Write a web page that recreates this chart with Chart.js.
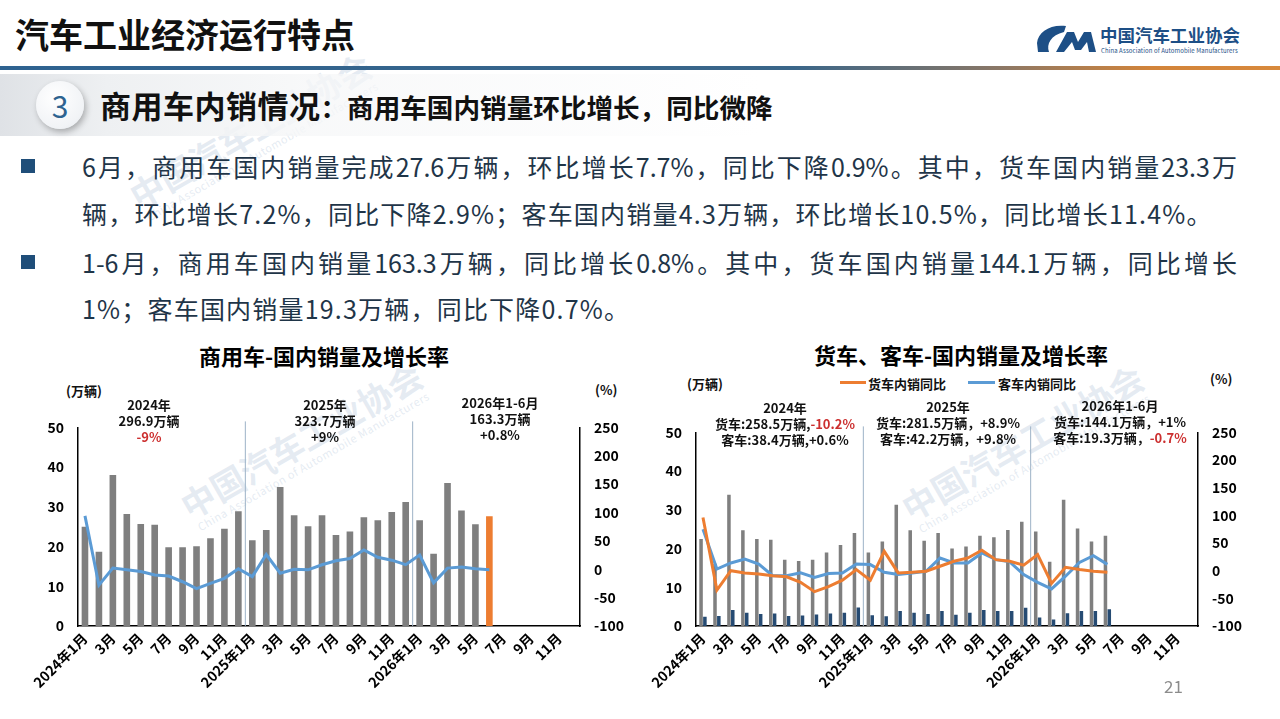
<!DOCTYPE html>
<html>
<head>
<meta charset="utf-8">
<script src="https://cdn.jsdelivr.net/npm/chart.js@4.4.1/dist/chart.umd.min.js"></script>
<style>
  body { margin: 0; background: #fff; font-family: "Noto Sans CJK SC", "Noto Sans", sans-serif; }
  #page { position: relative; width: 1280px; height: 719px; overflow: hidden; background: #fff; }
  .abs { position: absolute; white-space: nowrap; }
  .wm { position: absolute; color: rgba(186, 202, 222, 0.38); font-weight: bold; text-align: center; line-height: 1.1; transform: translate(-50%, -50%) rotate(-30deg); white-space: nowrap; pointer-events: none; }
  .wm small { display: block; font-size: 11px; font-weight: normal; letter-spacing: 0.5px; }
  .note { position: absolute; font-size: 13px; font-weight: bold; color: #111; text-align: center; line-height: 16px; transform: translateX(-50%); white-space: nowrap; }
  .red { color: #cc2f2f; }
  .body-line { position: absolute; left: 82px; font-size: 25px; line-height: 30px; color: #1f3548; letter-spacing: 1.2px; white-space: nowrap; }
  .just { width: 1155px; text-align: justify; text-align-last: justify; letter-spacing: 0; }
  .bullet { position: absolute; left: 21px; width: 14px; height: 14px; background: #1f4e79; }
  .unit { position: absolute; font-size: 13px; font-weight: bold; color: #111; white-space: nowrap; }
  .ctitle { position: absolute; font-size: 22px; font-weight: bold; color: #000; transform: translateX(-50%); white-space: nowrap; }
  canvas { position: absolute; }
</style>
</head>
<body>
<div id="page">
  <!-- faint watermarks -->
  <div class="wm" style="left:253px;top:135px;font-size:34px;">中国汽车工业协会<small>China Association of Automobile Manufacturers</small></div>
  <div class="wm" style="left:304px;top:445px;font-size:34px;">中国汽车工业协会<small>China Association of Automobile Manufacturers</small></div>
  <div class="wm" style="left:1025px;top:447px;font-size:34px;">中国汽车工业协会<small>China Association of Automobile Manufacturers</small></div>

  <!-- header -->
  <div class="abs" style="left:15px;top:12px;font-size:34px;font-weight:bold;color:#111;line-height:44px;">汽车工业经济运行特点</div>
  <svg class="abs" style="left:1036px;top:23px;" width="62" height="32" viewBox="0 0 62 32">
    <path d="M30 3 C14 1 2 9 1 20 L2 29 L13 29 C10 21 15 12 28 9 Z" fill="#1d4f86"/>
    <polygon points="20,29 31,9 38,9 42,19 48,9 55,9 60,29 53,29 51,19 45,27 39,27 36,19 28,29" fill="#1d4f86"/>
  </svg>
  <div class="abs" style="left:1100px;top:23px;font-size:17.5px;font-weight:bold;color:#1d4f86;line-height:24px;">中国汽车工业协会</div>
  <div class="abs" style="left:1101px;top:47px;font-size:6px;color:#1d4f86;line-height:8px;letter-spacing:0.1px;">China Association of Automobile Manufacturers</div>
  <div class="abs" style="left:0;top:66px;width:1280px;height:4px;background:linear-gradient(to right,#2e6290 0%,#3a6689 62%,#8a7766 78%,#d2843a 90%,#d8893c 100%);"></div>

  <!-- section header -->
  <div class="abs" style="left:0;top:74px;width:760px;height:62px;background:linear-gradient(to right,#dfe2e6 0%,#eef0f2 14%,rgba(246,247,248,0.8) 40%,rgba(255,255,255,0) 100%);"></div>
  <div class="abs" style="left:36px;top:81px;width:48px;height:48px;border-radius:50%;background:radial-gradient(circle at 40% 35%,#ffffff 0%,#f1f3f6 70%,#e2e6eb 100%);box-shadow:2px 3px 6px rgba(0,0,0,0.28);text-align:center;line-height:48px;font-size:30px;color:#2e6390;">3</div>
  <div class="abs" style="left:100px;top:86px;line-height:38px;color:#111;font-weight:bold;"><span style="font-size:31px;letter-spacing:0.5px;">商用车内销情况</span><span style="font-size:26.6px;">：商用车国内销量环比增长，同比微降</span></div>

  <!-- bullet text -->
  <div class="bullet" style="top:159px;"></div>
  <div class="body-line just" style="top:151px;">6月，商用车国内销量完成27.6万辆，环比增长7.7%，同比下降0.9%。其中，货车国内销量23.3万</div>
  <div class="body-line" style="top:198px;">辆，环比增长7.2%，同比下降2.9%；客车国内销量4.3万辆，环比增长10.5%，同比增长11.4%。</div>
  <div class="bullet" style="top:255px;"></div>
  <div class="body-line just" style="top:247px;">1-6月，商用车国内销量163.3万辆，同比增长0.8%。其中，货车国内销量144.1万辆，同比增长</div>
  <div class="body-line" style="top:293px;">1%；客车国内销量19.3万辆，同比下降0.7%。</div>

  <!-- left chart -->
  <div class="ctitle" style="left:324px;top:339px;">商用车-国内销量及增长率</div>
  <div class="unit" style="left:66px;top:381px;">(万辆)</div>
  <div class="unit" style="left:595px;top:380px;">(%)</div>
  <canvas id="leftChart" width="640" height="314" style="left:0;top:405px;width:640px;height:314px;"></canvas>
  <div class="note" style="left:149px;top:397px;">2024年<br>296.9万辆<br><span class="red">-9%</span></div>
  <div class="note" style="left:325px;top:397px;">2025年<br>323.7万辆<br>+9%</div>
  <div class="note" style="left:500px;top:395px;">2026年1-6月<br>163.3万辆<br>+0.8%</div>

  <!-- right chart -->
  <div class="ctitle" style="left:961px;top:338px;">货车、客车-国内销量及增长率</div>
  <div class="unit" style="left:687px;top:374px;">(万辆)</div>
  <div class="unit" style="left:1210px;top:369px;">(%)</div>
  <div class="abs" style="left:840px;top:381px;width:26px;height:3px;background:#ed7d31;"></div>
  <div class="unit" style="left:868px;top:374px;">货车内销同比</div>
  <div class="abs" style="left:968px;top:381px;width:27px;height:3px;background:#5b9bd5;"></div>
  <div class="unit" style="left:998px;top:374px;">客车内销同比</div>
  <canvas id="rightChart" width="640" height="309" style="left:640px;top:410px;width:640px;height:309px;"></canvas>
  <div class="note" style="left:785px;top:400px;">2024年<br>货车:258.5万辆,<span class="red">-10.2%</span><br>客车:38.4万辆,+0.6%</div>
  <div class="note" style="left:948px;top:399px;">2025年<br>货车:281.5万辆，+8.9%<br>客车:42.2万辆，+9.8%</div>
  <div class="note" style="left:1120px;top:398px;">2026年1-6月<br>货车:144.1万辆，+1%<br>客车:19.3万辆，<span class="red">-0.7%</span></div>

  <div class="abs" style="left:1164px;top:674px;font-size:17px;color:#8c8c8c;line-height:24px;">21</div>
</div>

<script>
// month categories, Jan 2024 - Dec 2026 (data ends at Jun 2026)
var monthLabels = [
  '2024年1月','2月','3月','4月','5月','6月','7月','8月','9月','10月','11月','12月',
  '2025年1月','2月','3月','4月','5月','6月','7月','8月','9月','10月','11月','12月',
  '2026年1月','2月','3月','4月','5月','6月','7月','8月','9月','10月','11月','12月'
];
// index where a new year starts (divider lines)
var yearStarts = [12, 24];

// commercial vehicles, domestic sales (万辆) and yoy (%)
var commercialSales = [25.0, 18.7, 38.0, 28.2, 25.7, 25.5, 19.8, 19.8, 20.1, 22.1, 24.5, 28.9,
                       21.6, 24.2, 35.0, 27.9, 25.1, 27.9, 22.9, 23.8, 27.4, 26.6, 28.7, 31.2,
                       26.6, 18.2, 36.0, 29.1, 25.6, 27.6];
var commercialYoy = [94, -28, 2, -1, -4, -10, -12, -22, -34, -25, -16, 1,
                     -13, 26, -7, 0, -1, 8, 15, 19, 34, 21, 16, 8,
                     25, -24, 2, 4, 1, -0.9];

// trucks and buses, domestic sales (万辆) and yoy (%)
var truckSales = [22.5, 16.1, 33.9, 24.7, 22.5, 22.3, 17.1, 16.8, 17.1, 19.0, 20.9, 24.0,
                  19.0, 21.8, 31.3, 24.7, 22.0, 24.0, 20.0, 20.5, 23.3, 22.9, 24.8, 26.9,
                  24.4, 16.6, 32.6, 25.2, 21.8, 23.3];
var busSales = [2.4, 2.6, 4.1, 3.4, 3.1, 3.2, 2.6, 2.7, 3.0, 3.2, 3.4, 4.8,
                2.8, 2.5, 3.9, 3.4, 3.1, 3.9, 2.9, 3.4, 4.1, 3.9, 3.9, 4.7,
                2.2, 1.7, 3.3, 3.9, 3.9, 4.3];
var truckYoy = [96, -35, 0, -4, -6, -9, -11, -21, -38, -29, -17, 2,
                -17, 35, -4, -3, -1, 8, 17, 23, 37, 20, 17, 10,
                29, -23, 6, 2, -1, -2.9];
var busYoy = [75, 3, 14, 21, 12, -9, -9, -4, -12, -5, -4, 12,
              11, -3, -7, -4, -1, 23, 14, 14, 32, 20, 16, -7,
              -21, -33, -10, 15, 27, 11.4];

Chart.defaults.font.family = '"Noto Sans CJK SC", "Noto Sans", sans-serif';
Chart.defaults.color = '#000';

// thin vertical lines between december and january
var yearDividers = {
  id: 'yearDividers',
  beforeDatasetsDraw: function(chart) {
    var x = chart.scales.x, area = chart.chartArea, ctx = chart.ctx;
    ctx.save();
    ctx.strokeStyle = '#9db2c7';
    ctx.lineWidth = 1;
    yearStarts.forEach(function(i) {
      var px = (x.getPixelForValue(i - 1) + x.getPixelForValue(i)) / 2;
      ctx.beginPath();
      ctx.moveTo(px, area.top - 6);
      ctx.lineTo(px, area.bottom);
      ctx.stroke();
    });
    ctx.restore();
  }
};

function makeScales(leftW, rightW) {
  var axisBorder = { display: true, color: '#000', width: 1.5 };
  var tickFont = { size: 14, weight: 'bold' };
  return {
    x: {
      grid: { display: false, drawTicks: false },
      border: axisBorder,
      ticks: {
        autoSkip: false, maxRotation: 45, minRotation: 45, padding: 4,
        font: tickFont,
        callback: function(v, i) { return i % 2 === 0 ? monthLabels[i] : ''; }
      },
      afterFit: function(s) { s.height = 93; }
    },
    y: {
      position: 'left', min: 0, max: 50,
      grid: { display: false, drawTicks: false },
      border: axisBorder,
      ticks: { stepSize: 10, padding: 14, font: tickFont },
      afterFit: function(s) { s.width = leftW; }
    },
    y1: {
      position: 'right', min: -100, max: 250,
      grid: { display: false, drawTicks: false },
      border: axisBorder,
      ticks: { stepSize: 50, padding: 14, font: tickFont },
      afterFit: function(s) { s.width = rightW; }
    }
  };
}

// left: commercial vehicles, latest month highlighted in orange
var latest = commercialSales.length - 1;
var barColors = commercialSales.map(function(v, i) { return i === latest ? '#ed7d31' : '#7f7f7f'; });

new Chart(document.getElementById('leftChart'), {
  type: 'bar',
  data: {
    labels: monthLabels,
    datasets: [{
      type: 'line',
      label: '商用车内销同比',
      data: commercialYoy,
      yAxisID: 'y1',
      borderColor: '#5b9bd5',
      borderWidth: 3,
      pointRadius: 0,
      tension: 0,
      order: 0
    }, {
      label: '商用车内销',
      data: commercialSales,
      yAxisID: 'y',
      backgroundColor: barColors,
      categoryPercentage: 0.5,
      barPercentage: 0.95,
      order: 1
    }]
  },
  options: {
    responsive: false,
    animation: false,
    layout: { padding: { top: 3, left: 0, right: 0, bottom: 0 } },
    plugins: { legend: { display: false }, tooltip: { enabled: false } },
    scales: makeScales(78, 60)
  },
  plugins: [yearDividers]
});

// right: trucks and buses
new Chart(document.getElementById('rightChart'), {
  type: 'bar',
  data: {
    labels: monthLabels,
    datasets: [{
      type: 'line',
      label: '货车内销同比',
      data: truckYoy,
      yAxisID: 'y1',
      borderColor: '#ed7d31',
      borderWidth: 3,
      pointRadius: 0,
      tension: 0,
      order: 0
    }, {
      type: 'line',
      label: '客车内销同比',
      data: busYoy,
      yAxisID: 'y1',
      borderColor: '#5b9bd5',
      borderWidth: 3,
      pointRadius: 0,
      tension: 0,
      order: 0
    }, {
      label: '货车内销',
      data: truckSales,
      yAxisID: 'y',
      backgroundColor: '#7f7f7f',
      categoryPercentage: 0.55,
      barPercentage: 0.92,
      order: 1
    }, {
      label: '客车内销',
      data: busSales,
      yAxisID: 'y',
      backgroundColor: '#264b73',
      categoryPercentage: 0.55,
      barPercentage: 0.92,
      order: 1
    }]
  },
  options: {
    responsive: false,
    animation: false,
    layout: { padding: { top: 3, left: 0, right: 0, bottom: 0 } },
    plugins: { legend: { display: false }, tooltip: { enabled: false } },
    scales: makeScales(56, 82)
  },
  plugins: [yearDividers]
});
</script>
</body>
</html>
